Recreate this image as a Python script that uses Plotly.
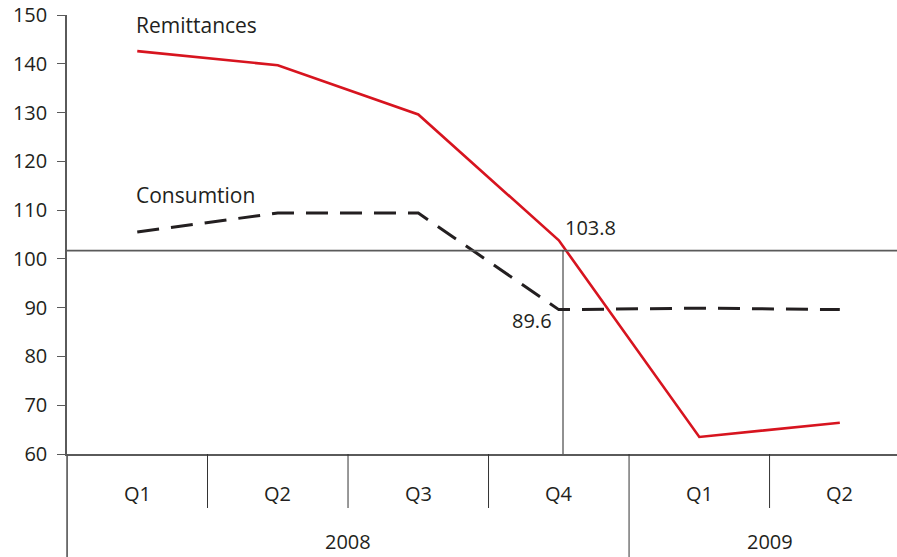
import plotly.graph_objects as go

quarters = ["Q1", "Q2", "Q3", "Q4", "Q1", "Q2"]
years = ["2008", "2009"]
year_spans = [(0, 3), (4, 5)]
remittances = [142.6, 139.7, 129.6, 103.8, 63.5, 66.4]
consumption = [105.5, 109.4, 109.4, 89.6, 89.9, 89.6]
y_ticks = [60, 70, 80, 90, 100, 110, 120, 130, 140, 150]
ref_level = 101.7

FONT = "Open Sans"
TEXT = "#231f20"
AXIS = "#5a5a5a"
PLOT_H = 439

xs = list(range(len(quarters)))

fig = go.Figure()
fig.add_trace(
    go.Scatter(
        x=xs,
        y=consumption,
        mode="lines",
        name="Consumtion",
        line={"color": "#231f20", "width": 3, "dash": "22px,12px"},
        showlegend=False,
    )
)
fig.add_trace(
    go.Scatter(
        x=xs,
        y=remittances,
        mode="lines",
        name="Remittances",
        line={"color": "#d7141f", "width": 2.6},
        showlegend=False,
    )
)

# reference cross-hair lines
fig.add_shape(
    type="line", xref="paper", yref="y", x0=0, x1=1, y0=ref_level, y1=ref_level,
    line={"color": AXIS, "width": 1.6},
)
fig.add_shape(
    type="line", xref="x", yref="y", x0=3.03, x1=3.03, y0=ref_level, y1=y_ticks[0],
    line={"color": "#222222", "width": 1},
)

# category dividers below the axis
short_len = -54 / PLOT_H
long_len = -110 / PLOT_H
for i in range(len(quarters)):
    x = i - 0.5
    is_year_edge = any(x == s - 0.5 for s, _ in year_spans)
    fig.add_shape(
        type="line", xref="x", yref="paper", x0=x, x1=x, y0=0,
        y1=long_len if is_year_edge else short_len,
        line={"color": "#333333", "width": 1},
    )

for i, q in enumerate(quarters):
    fig.add_annotation(
        x=i, y=-40 / PLOT_H, xref="x", yref="paper", text=q, yanchor="middle",
        showarrow=False, font={"size": 20, "color": TEXT, "family": FONT},
    )
for yr, (s, e) in zip(years, year_spans):
    fig.add_annotation(
        x=(s + e) / 2, y=-87 / PLOT_H, xref="x", yref="paper", text=yr,
        yanchor="middle", showarrow=False,
        font={"size": 20, "color": TEXT, "family": FONT},
    )

# series labels
fig.add_annotation(
    x=0, y=remittances[0], xref="x", yref="y", text="Remittances",
    xanchor="left", xshift=-3, yshift=26, showarrow=False,
    font={"size": 21, "color": TEXT, "family": FONT},
)
fig.add_annotation(
    x=0, y=consumption[0], xref="x", yref="y", text="Consumtion",
    xanchor="left", xshift=-3, yshift=37, showarrow=False,
    font={"size": 21, "color": TEXT, "family": FONT},
)
fig.add_annotation(
    x=3, y=remittances[3], xref="x", yref="y", text=f"{remittances[3]}",
    xanchor="left", xshift=4, yshift=13, showarrow=False,
    font={"size": 20, "color": TEXT, "family": FONT},
)
fig.add_annotation(
    x=3, y=consumption[3], xref="x", yref="y", text=f"{consumption[3]}",
    xanchor="right", xshift=-5, yshift=-11, showarrow=False,
    font={"size": 20, "color": TEXT, "family": FONT},
)

fig.update_xaxes(
    range=[-0.5, 5.407], showgrid=False, zeroline=False, showticklabels=False,
    showline=True, linecolor=AXIS, linewidth=1.5, ticks="",
)
fig.update_yaxes(
    range=[60, 150], tickvals=y_ticks, showgrid=False, zeroline=False,
    showline=True, linecolor=AXIS, linewidth=1.5, ticks="outside", ticklen=8,
    tickcolor=AXIS, tickwidth=1.3, ticklabelstandoff=6,
    tickfont={"size": 20, "color": TEXT, "family": FONT},
)
# extend y axis down through the category rows
fig.add_shape(
    type="line", xref="paper", yref="paper", x0=0, x1=0, y0=0, y1=long_len,
    line={"color": AXIS, "width": 1.5},
)

fig.update_layout(
    width=897,
    height=557,
    margin={"l": 67, "r": 0, "t": 15, "b": 557 - 15 - PLOT_H},
    plot_bgcolor="white",
    paper_bgcolor="white",
    font={"family": FONT, "color": TEXT},
)

# drop the default page margin so the figure fills the window exactly
fig.write_html(
    "out.html",
    config={"displayModeBar": False},
    post_script="document.body.style.margin='0';document.body.style.overflow='hidden';",
)
